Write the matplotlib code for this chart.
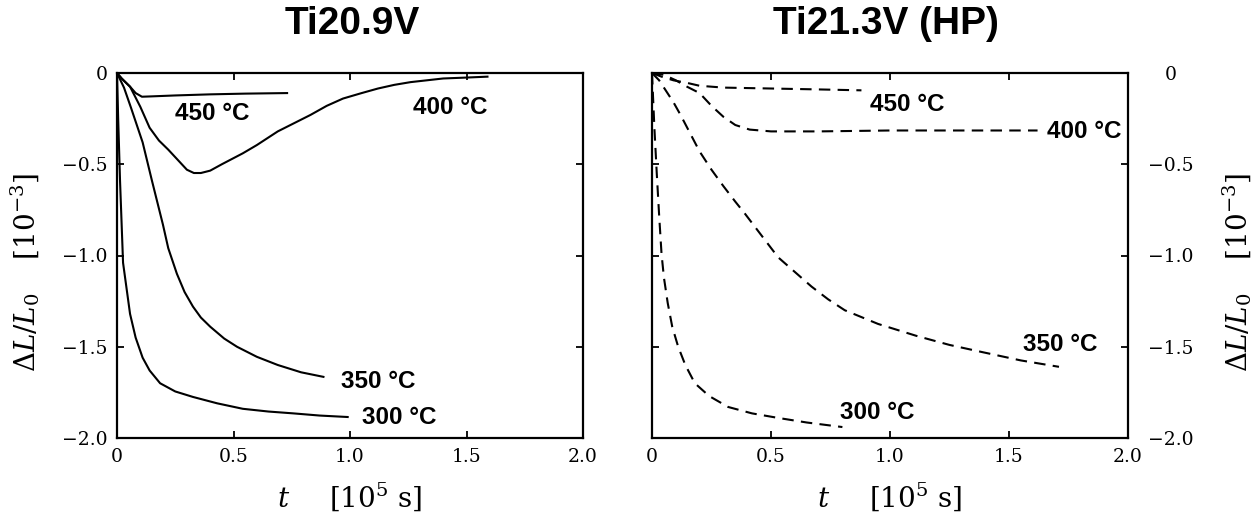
import numpy as np
import matplotlib
matplotlib.use("Agg")
import matplotlib.pyplot as plt
from matplotlib.ticker import FixedLocator, FixedFormatter

plt.rcParams["font.family"] = ["DejaVu Serif"]
plt.rcParams["mathtext.fontset"] = "dejavuserif"

# Ti20.9V (solid curves), t in 1e5 s, dL/L0 in 1e-3
t450_a = [0, 0.02, 0.056, 0.08, 0.107, 0.15, 0.25, 0.4, 0.55, 0.73]
d450_a = [0, -0.03, -0.075, -0.11, -0.13, -0.128, -0.123, -0.117, -0.113, -0.11]

t400_a = [0, 0.02, 0.056, 0.1, 0.14, 0.18, 0.22, 0.26, 0.30, 0.33, 0.36, 0.40,
          0.45, 0.54, 0.6, 0.69, 0.76, 0.83, 0.9, 0.97, 1.05, 1.12, 1.19, 1.26,
          1.33, 1.40, 1.5, 1.59]
d400_a = [0, -0.03, -0.075, -0.185, -0.30, -0.37, -0.42, -0.475, -0.53, -0.548,
          -0.548, -0.535, -0.50, -0.44, -0.395, -0.32, -0.275, -0.23, -0.18,
          -0.14, -0.11, -0.085, -0.065, -0.05, -0.04, -0.03, -0.025, -0.02]

t350_a = [0, 0.03, 0.06, 0.11, 0.15, 0.197, 0.22, 0.257, 0.29, 0.326, 0.36, 0.40,
          0.46, 0.515, 0.6, 0.69, 0.79, 0.886]
d350_a = [0, -0.08, -0.19, -0.38, -0.59, -0.83, -0.96, -1.10, -1.20, -1.28, -1.34,
          -1.39, -1.455, -1.50, -1.555, -1.60, -1.64, -1.665]

t300_a = [0, 0.005, 0.013, 0.026, 0.056, 0.08, 0.11, 0.14, 0.185, 0.25, 0.326,
          0.43, 0.54, 0.65, 0.756, 0.87, 0.99]
d300_a = [0, -0.25, -0.59, -1.04, -1.32, -1.45, -1.56, -1.63, -1.70, -1.745,
          -1.775, -1.81, -1.84, -1.855, -1.865, -1.877, -1.885]

# Ti21.3V (HP) (dashed curves)
t450_b = [0, 0.04, 0.09, 0.15, 0.2, 0.3, 0.5, 0.7, 0.88]
d450_b = [0, -0.02, -0.04, -0.055, -0.07, -0.08, -0.085, -0.09, -0.095]

t400_b = [0, 0.05, 0.1, 0.147, 0.2, 0.25, 0.3, 0.35, 0.41, 0.5, 0.7, 1.0, 1.3, 1.62]
d400_b = [0, -0.01, -0.04, -0.075, -0.11, -0.18, -0.24, -0.285, -0.31, -0.32, -0.32,
          -0.315, -0.315, -0.315]

t350_b = [0, 0.03, 0.06, 0.09, 0.12, 0.16, 0.2, 0.25, 0.30, 0.35, 0.39, 0.46, 0.53,
          0.6, 0.67, 0.74, 0.81, 0.95, 1.11, 1.25, 1.39, 1.55, 1.71]
d350_b = [0, -0.04, -0.10, -0.16, -0.23, -0.33, -0.43, -0.53, -0.62, -0.705, -0.77,
          -0.89, -1.01, -1.09, -1.17, -1.24, -1.30, -1.375, -1.44, -1.49, -1.53,
          -1.575, -1.61]

t300_b = [0, 0.01, 0.02, 0.03, 0.04, 0.05, 0.066, 0.085, 0.11, 0.14, 0.18, 0.24,
          0.32, 0.42, 0.53, 0.65, 0.80]
d300_b = [0, -0.3, -0.55, -0.78, -0.99, -1.12, -1.26, -1.39, -1.50, -1.60, -1.70,
          -1.77, -1.83, -1.865, -1.89, -1.915, -1.94]

# label positions (t, dL/L0)
labels_a = [("450 °C", 0.25, -0.22), ("400 °C", 1.27, -0.19),
            ("350 °C", 0.96, -1.69), ("300 °C", 1.05, -1.89)]
labels_b = [("450 °C", 0.916, -0.175), ("400 °C", 1.66, -0.32),
            ("350 °C", 1.56, -1.49), ("300 °C", 0.79, -1.86)]

xticks = [0, 0.5, 1.0, 1.5, 2.0]
xticklabels = ["0", "0.5", "1.0", "1.5", "2.0"]
yticks = [0, -0.5, -1.0, -1.5, -2.0]
yticklabels = ["0", "\u22120.5", "\u22121.0", "\u22121.5", "\u22122.0"]

fig = plt.figure(figsize=(12.58, 5.13), dpi=100)
ax1 = fig.add_axes([117 / 1258, 1 - 438 / 513, 466 / 1258, 365 / 513])
ax2 = fig.add_axes([652 / 1258, 1 - 438 / 513, 476 / 1258, 365 / 513])

lw = 1.5
ax1.plot(t450_a, d450_a, color="black", lw=lw)
ax1.plot(t400_a, d400_a, color="black", lw=lw)
ax1.plot(t350_a, d350_a, color="black", lw=lw)
ax1.plot(t300_a, d300_a, color="black", lw=lw)

dash = (5.5, 3.5)
for t, d in [(t450_b, d450_b), (t400_b, d400_b), (t350_b, d350_b), (t300_b, d300_b)]:
    ax2.plot(t, d, color="black", lw=lw, linestyle=(0, dash))

lab_font = dict(family="Liberation Sans", fontsize=17.5, fontweight="bold",
                ha="left", va="center")
for txt, x, y in labels_a:
    ax1.text(x, y, txt, **lab_font)
for txt, x, y in labels_b:
    ax2.text(x, y, txt, **lab_font)

ylabel = r"$\Delta L/L_0\quad\;[10^{-3}]$"
xlabel = r"$t\quad\;\;[10^5\ \mathrm{s}]$"

for ax in (ax1, ax2):
    ax.set_xlim(0, 2.0)
    ax.set_ylim(-2.0, 0)
    ax.xaxis.set_major_locator(FixedLocator(xticks))
    ax.xaxis.set_major_formatter(FixedFormatter(xticklabels))
    ax.yaxis.set_major_locator(FixedLocator(yticks))
    ax.yaxis.set_major_formatter(FixedFormatter(yticklabels))
    ax.tick_params(direction="in", length=5, width=1.3, labelsize=13.5,
                   top=True, left=True, right=True, pad=7)
    for s in ax.spines.values():
        s.set_linewidth(1.6)
    ax.set_xlabel(xlabel, fontsize=20, va="center")
    ax.xaxis.set_label_coords(0.5, -(497 - 438) / 365)

ax1.set_ylabel(ylabel, fontsize=20, va="center")
ax1.yaxis.set_label_coords((25 - 117) / 466, 0.455)

ax2.tick_params(axis="y", labelleft=False, labelright=True, pad=31)
for lbl in ax2.get_yticklabels():
    lbl.set_horizontalalignment("center")
ax2.yaxis.set_label_position("right")
ax2.set_ylabel(ylabel, fontsize=20, va="center")
ax2.yaxis.set_label_coords((1237 - 652) / 476, 0.455)

title_font = dict(family="Liberation Sans", fontsize=28, fontweight="bold",
                  ha="center", va="center")
fig.text(352 / 1258, 1 - 24 / 513, "Ti20.9V", **title_font)
fig.text(886 / 1258, 1 - 24 / 513, "Ti21.3V (HP)", **title_font)

fig.savefig("out.png", dpi=100)
